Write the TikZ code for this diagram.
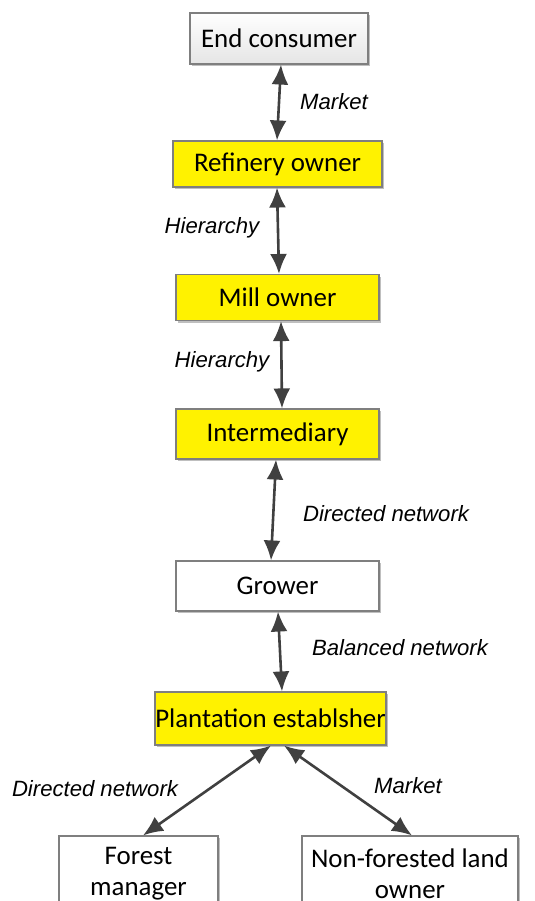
\documentclass[tikz,border=0pt]{standalone}
\usepackage{fontspec}
\setmainfont{Carlito}
\newfontfamily\labelfont{Liberation Sans}
\usetikzlibrary{arrows.meta,shadows}
\definecolor{boxline}{HTML}{7F7F7F}
\definecolor{arrowc}{HTML}{404040}
\tikzset{
  box/.style={draw=boxline, line width=1.1bp, inner sep=0pt, align=center,
    font=\fontsize{27}{31}\selectfont,
    drop shadow={shadow xshift=2bp, shadow yshift=-2bp, opacity=0.25, fill=black}},
  ybox/.style={box, fill=yellow},
  wbox/.style={box, fill=white},
  link/.style={draw=arrowc, line width=2.6bp, {Latex[length=20bp,width=17bp]}-{Latex[length=20bp,width=17bp]}},
  lbl/.style={font=\labelfont\itshape\fontsize{22.2}{26}\selectfont, inner sep=0pt}
}
\begin{document}
\begin{tikzpicture}[x=1bp,y=-1bp]
\useasboundingbox (0,0) rectangle (535,901);
\clip (0,0) rectangle (535,901);
\node[box, top color=white, bottom color=black!10, minimum width=178bp, minimum height=51bp] (ec) at (279,38.5) {End consumer};
\node[ybox, minimum width=209bp, minimum height=46bp] (ref) at (277.5,164) {Refinery owner};
\node[ybox, minimum width=203bp, minimum height=46bp] (mill) at (277.5,297.5) {Mill owner};
\node[ybox, minimum width=203bp, minimum height=50bp] (int) at (277.5,434) {Intermediary};
\node[wbox, minimum width=203bp, minimum height=50bp] (gro) at (277.5,586) {Grower};
\node[ybox, minimum width=231bp, minimum height=53bp] (pla) at (270.5,718.5) {Plantation establsher};
\node[wbox, minimum width=159bp, minimum height=76bp] (fm) at (138.5,874) {Forest\\manager};
\node[wbox, minimum width=216bp, minimum height=76bp] (nf) at (410,874) {Non-forested land\\owner};

\draw[link] ([xshift=2bp]ec.south) -- ([xshift=-0.5bp]ref.north);
\draw[link] ([xshift=-0.5bp]ref.south) -- ([xshift=1.5bp]mill.north);
\draw[link] ([xshift=3.5bp]mill.south) -- ([xshift=4.5bp]int.north);
\draw[link] ([xshift=-1.5bp]int.south) -- ([xshift=-6.5bp]gro.north);
\draw[link] ([xshift=0.5bp]gro.south) -- ([xshift=11.5bp]pla.north);
\draw[link] ([xshift=0.5bp]pla.south) -- ([xshift=4.5bp]fm.north);
\draw[link] ([xshift=13.5bp]pla.south) -- ([xshift=2bp]nf.north);

\node[lbl] (l1) at (334,102) {Market};
\node[lbl] (l2) at (212,228) {Hierarchy};
\node[lbl] (l3) at (222,362) {Hierarchy};
\node[lbl] (l4) at (386,514) {Directed network};
\node[lbl] (l5) at (400,648) {Balanced network};
\node[lbl] (l6) at (95,789) {Directed network};
\node[lbl] (l7) at (408,786) {Market};
\end{tikzpicture}
\end{document}
